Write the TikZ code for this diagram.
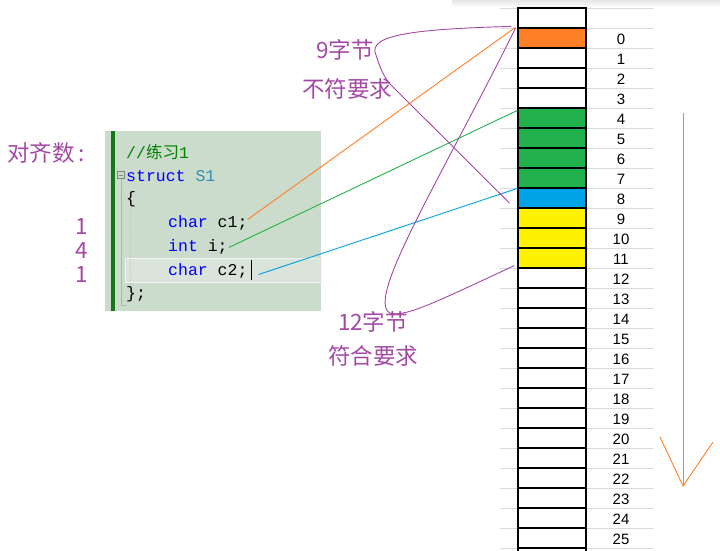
\documentclass[tikz,border=0pt]{standalone}
\usepackage{fontspec}
\setmainfont{Liberation Sans}
\setmonofont{Liberation Mono}
\newfontfamily\cjk{Noto Sans CJK SC}
\usetikzlibrary{calc}

\definecolor{memorange}{HTML}{FF7F27}
\definecolor{memgreen}{HTML}{22B14C}
\definecolor{memblue}{HTML}{00A2E8}
\definecolor{memyellow}{HTML}{FFF200}
\definecolor{inkpurple}{HTML}{A349A4}
\definecolor{codebg}{HTML}{CCDCCC}
\definecolor{curline}{HTML}{DAE4DA}
\definecolor{codebar}{HTML}{15791A}
\definecolor{kwblue}{HTML}{0000FF}
\definecolor{typeteal}{HTML}{2B91AF}
\definecolor{cmtgreen}{HTML}{008000}
\definecolor{gridgray}{HTML}{DADADA}

\tikzset{
  cell/.style={draw=black,line width=1.2pt,fill=white,minimum width=68pt,minimum height=20pt,inner sep=0pt},
  idx/.style={font=\fontsize{15}{15}\selectfont,inner sep=0pt},
  code/.style={font=\fontsize{16.5}{16.5}\ttfamily,anchor=base west,inner sep=0pt},
  note/.style={text=inkpurple,font=\fontsize{22.5}{22.5}\cjk,inner sep=0pt},
  ink/.style={inkpurple,line width=0.9pt},
}

\begin{document}
\begin{tikzpicture}[x=1pt,y=-1pt]
\useasboundingbox (0,0) rectangle (720,550);
\shade[top color=black!10,bottom color=white] (452,0) rectangle (720,7);

% memory grid
\foreach \n in {0,...,27}
  \draw[gridgray] (500,8+20*\n) -- (653,8+20*\n);
\node[cell] (mtop) at (552,18) {};
\foreach \n in {0,...,26}
  \node[cell] (m\n) at (552,38+20*\n) {};
\foreach \n/\c in {0/memorange,4/memgreen,5/memgreen,6/memgreen,7/memgreen,8/memblue,9/memyellow,10/memyellow,11/memyellow}
  \node[cell,fill=\c] (m\n) at (552,38+20*\n) {};
\foreach \n in {0,...,25}
  \node[idx] (l\n) at (621,39+20*\n) {\n};

% code window
\fill[codebg] (105,131) rectangle (321,311);
\fill[codebar] (111,131) rectangle (115,311);
\draw[fill=curline,draw=white!60!curline] (125,258) rectangle (321,282);
\draw[gray,line width=0.6pt] (117.5,171.5) rectangle (124.5,178.5);
\draw[gray,line width=0.6pt] (119,175) -- (123,175);
\draw[gray!60,line width=0.6pt] (121,178.5) -- (121,305) -- (126,305);
\draw[gray!45,dotted] (130,201) -- (130,287);
\node[code,text=cmtgreen] (cmt) at (126,158) {//{\cjk 练习}1};
\node[code] (hdr) at (126,181) {\textcolor{kwblue}{struct} \textcolor{typeteal}{S1}};
\node[code] (lb) at (126,203) {\{};
\node[code] (c1) at (168,227) {\textcolor{kwblue}{char} c1;};
\node[code] (vi) at (168,251) {\textcolor{kwblue}{int} i;};
\node[code] (c2) at (168,275) {\textcolor{kwblue}{char} c2;};
\node[code] (rb) at (126,298) {\};};
\draw[line width=0.9pt] ($(c2.east)+(4,-10)$) -- ($(c2.east)+(4,10)$);

% members to memory
\draw[memorange,line width=0.9pt] ($(c1.east)+(0,-3)$) -- ($(m0.north west)+(-2,0)$);
\draw[memgreen,line width=0.9pt] ($(vi.east)+(1,1)$) -- ($(m4.north west)+(0,3)$);
\draw[memblue,line width=0.9pt] ($(c2.east)+(11,4)$) -- ($(m8.north west)+(0,1)$);

% notes
\node[note,anchor=west] (align) at (7,153) {对齐数\,:};
\node[note,anchor=east] (a1) at (88,226) {1};
\node[note,anchor=east] (a4) at (88,250) {4};
\node[note,anchor=east] (a2) at (88,274) {1};
\node[note] (n9) at (345,50) {9字节};
\node[note] (bad) at (347,89) {不符要求};
\node[note] (n12) at (373,322) {12字节};
\node[note] (good) at (373,356) {符合要求};

% hand drawn loops
\draw[ink] ($(m0.north west)+(-6,-1)$) .. controls (420,29) and (366,34) .. (376,55)
  .. controls (380,68) and (385,80) .. (393,87) -- ($(m8.west)+(-8,5)$);
\draw[ink] ($(m0.north west)+(-2,1)$) .. controls (440,180) and (365,300) .. (390,313)
  .. controls (405,318) and (440,300) .. ($(m11.south west)+(-3,-3)$);

% direction
\coordinate (atop) at (683,113);
\coordinate (atip) at (683,486);
\draw[memorange,line width=0.9pt] (atop) -- (atip);
\draw[memorange,line width=0.9pt] (660,437) -- (atip) -- (713,442);
\end{tikzpicture}
\end{document}
